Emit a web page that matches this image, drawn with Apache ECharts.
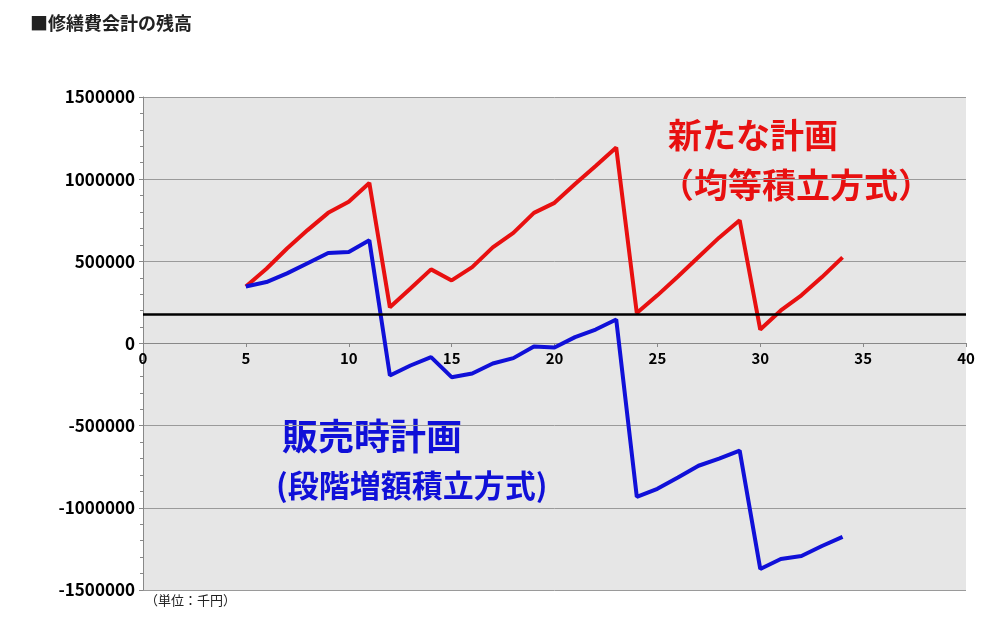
<!DOCTYPE html>
<html><head><meta charset="utf-8">
<script src="https://cdn.jsdelivr.net/npm/echarts@6/dist/echarts.min.js"></script>
<style>html,body{margin:0;padding:0;background:#fff}#c{width:1000px;height:634px}</style>
</head><body><div id="c"></div>
<script>
const years = [5,6,7,8,9,10,11,12,13,14,15,16,17,18,19,20,21,22,23,24,25,26,27,28,29,30,31,32,33,34];
const newPlan = [347000,455000,578000,690000,795000,862000,977000,220000,335000,451000,384000,465000,585000,673000,795000,856000,970000,1080000,1193000,185000,293000,408000,526000,644000,750000,85000,201000,293000,404000,524000];
const salePlan = [347000,374000,427000,488000,551000,557000,628000,-195000,-134000,-83000,-205000,-183000,-122000,-89000,-18000,-24000,39000,85000,146000,-933000,-884000,-815000,-744000,-701000,-652000,-1372000,-1311000,-1293000,-1232000,-1177000];
const refLineValue = 177000;
const font = '"Noto Sans CJK JP", "Noto Sans", sans-serif';
const chart = echarts.init(document.getElementById('c'));
chart.setOption({
  animation:false,
  textStyle:{fontFamily:font},
  grid:{left:143,right:34,top:97,bottom:44,show:true,backgroundColor:'#e6e6e6',borderWidth:0},
  xAxis:{type:'value',min:0,max:40,interval:5,offset:-247,
    axisLine:{onZero:false,lineStyle:{color:'#888'}},
    axisTick:{show:true,length:4,lineStyle:{color:'#888'}},
    axisLabel:{color:'#000',fontWeight:'bold',fontSize:15,fontFamily:font,margin:8},
    splitLine:{show:false}},
  yAxis:{type:'value',min:-1500000,max:1500000,interval:500000,
    axisLine:{show:true,lineStyle:{color:'#888'}},
    axisTick:{show:true,length:4,lineStyle:{color:'#888'}},
    minorTick:{show:true,splitNumber:5,length:3,lineStyle:{color:'#888'}},
    axisLabel:{color:'#000',fontWeight:'bold',fontSize:17,fontFamily:font,margin:8,formatter:v=>String(v)},
    splitLine:{show:true,lineStyle:{color:'#9a9a9a',width:1}}},
  series:[
    {type:'line',data:years.map((x,i)=>[x,newPlan[i]]),showSymbol:false,
     lineStyle:{color:'#e81010',width:4},
     markLine:{silent:true,symbol:'none',label:{show:false},
       lineStyle:{color:'#000',width:2.5,type:'solid'},data:[{yAxis:refLineValue}]}},
    {type:'line',data:years.map((x,i)=>[x,salePlan[i]]),showSymbol:false,
     lineStyle:{color:'#1010d8',width:4}}
  ],
  graphic:[
    {type:'text',left:30,top:14,style:{text:'■修繕費会計の残高',font:'bold 18px '+font,fill:'#222'}},
    {type:'text',left:668,top:118,style:{text:'新たな計画',font:'bold 34px '+font,fill:'#e81010'}},
    {type:'text',left:660,top:168,style:{text:'（均等積立方式）',font:'bold 34px '+font,fill:'#e81010'}},
    {type:'text',left:282,top:418,style:{text:'販売時計画',font:'bold 36px '+font,fill:'#1010d8'}},
    {type:'text',left:276,top:470,style:{text:'(段階増額積立方式)',font:'bold 31px '+font,fill:'#1010d8'}},
    {type:'text',left:145,top:594,style:{text:'（単位：千円）',font:'13px '+font,fill:'#222'}}
  ]
});
</script></body></html>
